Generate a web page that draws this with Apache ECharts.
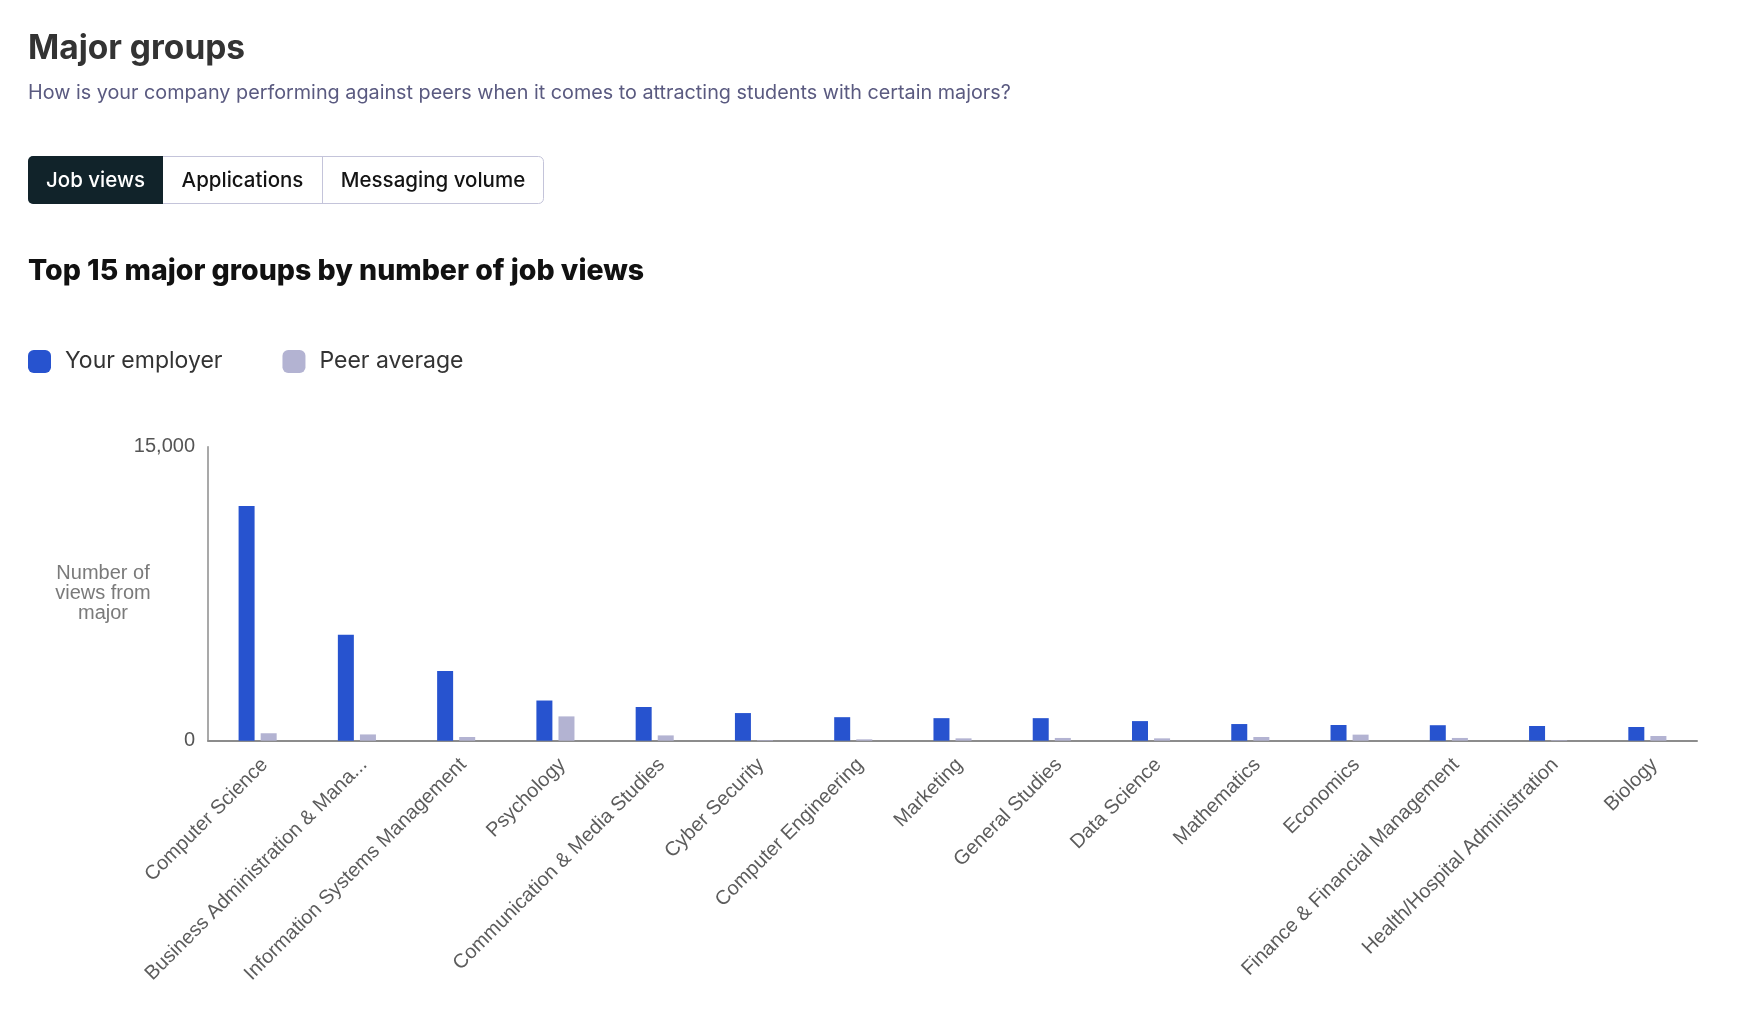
<!DOCTYPE html>
<html>
<head>
<meta charset="utf-8">
<title>Major groups</title>
<script src="https://cdn.jsdelivr.net/npm/echarts@6/dist/echarts.min.js"></script>
<style>
    html, body { margin: 0; padding: 0; background: #fff; }
    #main { width: 1762px; height: 1036px; }
</style>
</head>
<body>
<div id="main"></div>
<script>
// data
var majors = ['Computer Science', 'Business Administration & Management', 'Information Systems Management',
    'Psychology', 'Communication & Media Studies', 'Cyber Security', 'Computer Engineering', 'Marketing',
    'General Studies', 'Data Science', 'Mathematics', 'Economics', 'Finance & Financial Management',
    'Health/Hospital Administration', 'Biology'];
var employerViews = [11970, 5400, 3550, 2050, 1720, 1410, 1200, 1150, 1150, 1000, 850, 800, 790, 750, 700];
var peerViews = [380, 320, 190, 1240, 270, 30, 70, 120, 140, 120, 190, 310, 140, 30, 240];
var yTicks = [0, 15000];
var seriesNames = ['Your employer', 'Peer average'];
var tabs = ['Job views', 'Applications', 'Messaging volume'];

var headFont = 'Inter, "Noto Sans", sans-serif';
var chartFont = '"Liberation Sans", Arial, sans-serif';
var blue = '#2753cf';
var lilac = '#b3b3d2';
var axisGray = '#8c8c8c';

// tab bar (drawn with graphic elements)
var tabEdges = [28, 163, 322, 544];
var tabTop = 156, tabH = 48;
var tabGraphics = [{
    type: 'rect',
    shape: { x: 28.5, y: tabTop + 0.5, width: 515, height: tabH - 1, r: 5 },
    style: { fill: '#fff', stroke: '#c4c4da', lineWidth: 1 }
}, {
    type: 'rect',
    shape: { x: 28, y: tabTop, width: tabEdges[1] - tabEdges[0], height: tabH, r: [5, 0, 0, 5] },
    style: { fill: '#11232a' }
}, {
    type: 'line',
    shape: { x1: tabEdges[2] + 0.5, y1: tabTop + 1, x2: tabEdges[2] + 0.5, y2: tabTop + tabH - 1 },
    style: { stroke: '#c4c4da', lineWidth: 1 }
}];
tabs.forEach(function (t, i) {
    tabGraphics.push({
        type: 'text',
        x: (tabEdges[i] + tabEdges[i + 1]) / 2,
        y: tabTop + tabH / 2 + 1,
        style: {
            text: t,
            font: '500 20.5px ' + headFont,
            fill: i === 0 ? '#fff' : '#141414',
            align: 'center',
            verticalAlign: 'middle'
        }
    });
});

var myChart = echarts.init(document.getElementById('main'));

var option = {
    backgroundColor: '#fff',
    animation: false,
    textStyle: { fontFamily: chartFont },
    graphic: [{
        type: 'text', x: 28, y: 49,
        style: { text: 'Major groups', font: '700 33.5px ' + headFont, fill: '#333', verticalAlign: 'middle' }
    }, {
        type: 'text', x: 28, y: 93,
        style: {
            text: 'How is your company performing against peers when it comes to attracting students with certain majors?',
            font: '400 19.8px ' + headFont, fill: '#5a5a80', verticalAlign: 'middle'
        }
    }, {
        type: 'text', x: 28, y: 271,
        style: { text: 'Top 15 major groups by number of job views', font: '800 28.5px ' + headFont, fill: '#111', verticalAlign: 'middle' }
    }].concat(tabGraphics),
    legend: {
        left: 28,
        top: 350,
        icon: 'roundRect',
        itemWidth: 23,
        itemHeight: 23,
        itemGap: 60,
        padding: 0,
        textStyle: { fontFamily: headFont, fontSize: 23, color: '#333', padding: [0, 0, 0, 9] },
        data: seriesNames
    },
    grid: {
        left: 208,
        right: 65,
        top: 446.7,
        bottom: 295.3,
        containLabel: false,
        outerBoundsMode: 'none'
    },
    xAxis: {
        type: 'category',
        data: majors,
        axisLine: { lineStyle: { color: axisGray, width: 2 } },
        axisTick: { alignWithLabel: true, length: 9, lineStyle: { color: axisGray, width: 1.5 } },
        axisLabel: {
            interval: 0,
            rotate: 45,
            margin: 14,
            fontSize: 20,
            color: '#5c5c5c',
            verticalAlign: 'top',
            formatter: function (v) {
                return v.length > 30 ? v.slice(0, 30) + '...' : v;
            }
        }
    },
    yAxis: {
        type: 'value',
        min: yTicks[0],
        max: yTicks[yTicks.length - 1],
        interval: yTicks[1] - yTicks[0],
        splitLine: { show: false },
        axisTick: { show: false },
        axisLine: { show: true, lineStyle: { color: axisGray, width: 1.5 } },
        axisLabel: {
            margin: 13,
            fontSize: 20,
            color: '#555',
            formatter: function (v) { return v.toLocaleString('en-US'); }
        },
        name: 'Number of\nviews from\nmajor',
        nameLocation: 'middle',
        nameRotate: 0,
        nameGap: 105,
        nameMoveOverlap: false,
        nameTextStyle: { fontSize: 20, color: '#7a7a7a', align: 'center', verticalAlign: 'middle', lineHeight: 20, padding: [7, 0, 0, 0] }
    },
    series: [{
        name: seriesNames[0],
        type: 'bar',
        data: employerViews,
        barWidth: 16,
        barGap: '38%',
        itemStyle: { color: blue }
    }, {
        name: seriesNames[1],
        type: 'bar',
        data: peerViews,
        barWidth: 16,
        itemStyle: { color: lilac }
    }]
};
myChart.setOption(option);
</script>
</body>
</html>
